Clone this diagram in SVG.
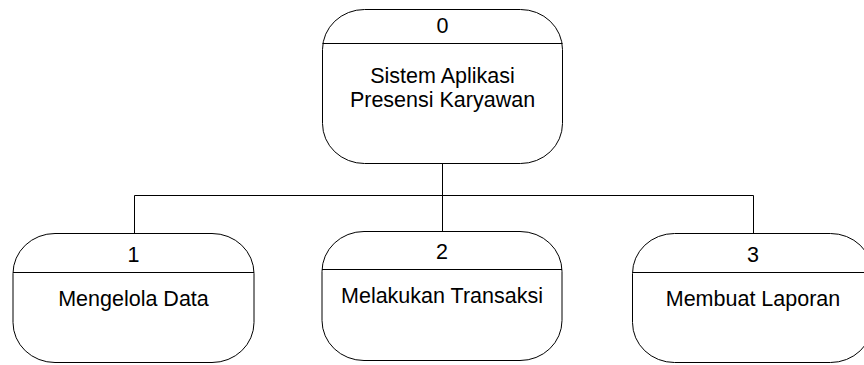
<svg xmlns="http://www.w3.org/2000/svg" width="864" height="365" viewBox="0 0 864 365">
  <style>
    .box { fill: #ffffff; stroke: #000000; stroke-width: 1; }
    .div { stroke: #000000; stroke-width: 1; }
    .wire { fill: none; stroke: #000000; stroke-width: 1; }
    .t { font-family: "Liberation Sans", Arial, sans-serif; font-size: 21.5px; fill: #000000; text-anchor: middle; }
  </style>
  <rect width="864" height="365" fill="#ffffff"/>

  <!-- connectors -->
  <g id="connectors">
    <line class="wire" x1="442.5" y1="164" x2="442.5" y2="231"/>
    <polyline class="wire" points="134.5,233 134.5,195.5 753.5,195.5 753.5,233"/>
  </g>

  <!-- process 0 -->
  <g id="node-0">
    <rect class="box" x="322.5" y="9.5" width="240" height="154" rx="42" ry="40"/>
    <line class="div" x1="322.5" y1="43.5" x2="562.5" y2="43.5"/>
    <text class="t" x="442.5" y="33">0</text>
    <text class="t" x="442.5" y="83">Sistem Aplikasi</text>
    <text class="t" x="442.5" y="106.5">Presensi Karyawan</text>
  </g>

  <!-- process 1 -->
  <g id="node-1">
    <rect class="box" x="13" y="233.5" width="241" height="129" rx="42" ry="40"/>
    <line class="div" x1="13" y1="272.5" x2="254" y2="272.5"/>
    <text class="t" x="133.5" y="261.5">1</text>
    <text class="t" x="133.5" y="305.5">Mengelola Data</text>
  </g>

  <!-- process 2 -->
  <g id="node-2">
    <rect class="box" x="322" y="231.5" width="240" height="129" rx="42" ry="40"/>
    <line class="div" x1="322" y1="269.5" x2="562" y2="269.5"/>
    <text class="t" x="442" y="259">2</text>
    <text class="t" x="442" y="302.5">Melakukan Transaksi</text>
  </g>

  <!-- process 3 -->
  <g id="node-3">
    <rect class="box" x="632.5" y="233.5" width="240" height="129" rx="42" ry="40"/>
    <line class="div" x1="632.5" y1="272.5" x2="872.5" y2="272.5"/>
    <text class="t" x="753" y="261.5">3</text>
    <text class="t" x="753" y="305.5">Membuat Laporan</text>
  </g>
</svg>
